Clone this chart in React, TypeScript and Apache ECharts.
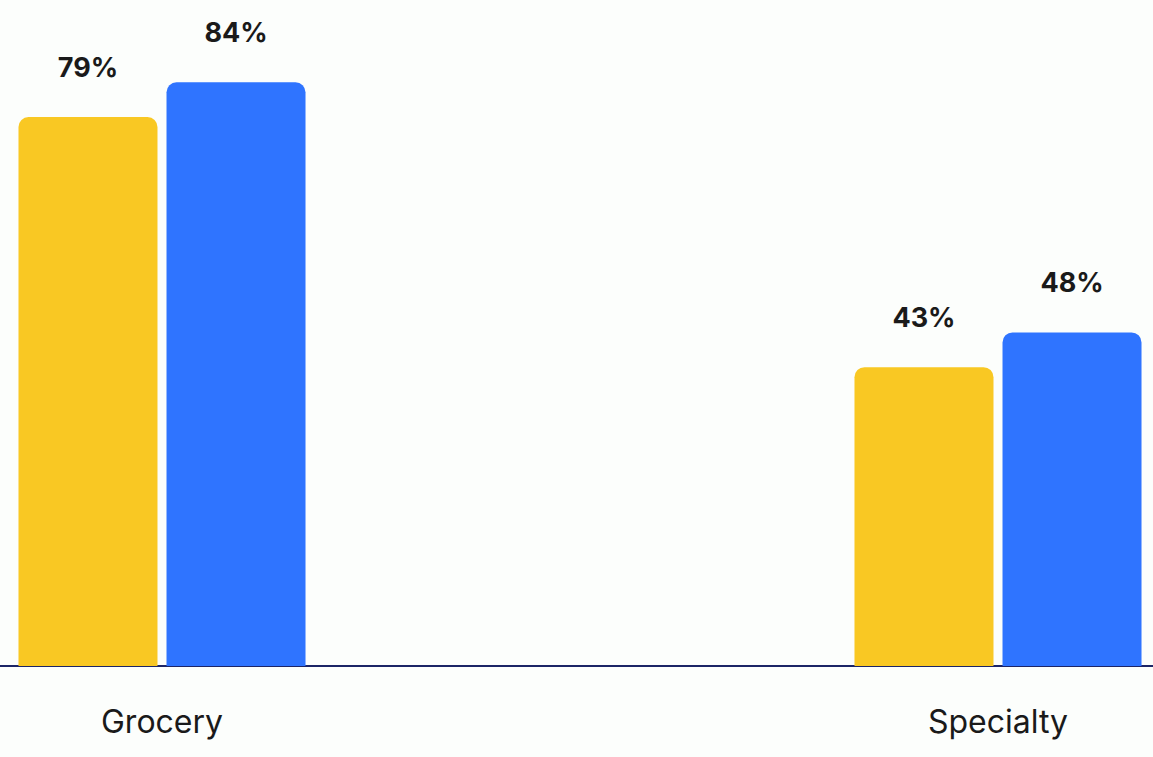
import React, { useEffect, useRef } from "react";
import * as echarts from "echarts";

const categories = ["Grocery", "Specialty"];
const seriesA = [79, 43];
const seriesB = [84, 48];
const seriesNames = ["Series A", "Series B"];

export default function App() {
  const ref = useRef<HTMLDivElement>(null);
  useEffect(() => {
    if (!ref.current) return;
    const chart = echarts.init(ref.current, undefined, { renderer: "svg" });
    const labelStyle = {
      show: true,
      position: "top" as const,
      distance: 36,
      formatter: "{c}%",
      fontFamily: "Inter, 'Open Sans', sans-serif",
      fontWeight: "bold" as const,
      fontSize: 27,
      color: "#1a1a1a",
    };
    chart.setOption({
      animation: false,
      backgroundColor: "#FCFEFC",
      grid: { left: 0, right: 0, top: 0, bottom: 91, containLabel: false },
      xAxis: {
        type: "category",
        data: categories,
        axisLine: { show: true, lineStyle: { color: "#1C2566", width: 2 } },
        axisTick: { show: false },
        axisLabel: {
          margin: 39,
          fontFamily: "Inter, 'Open Sans', sans-serif",
          fontSize: 32,
          color: "#1a1a1a",
        },
      },
      yAxis: {
        type: "value",
        min: 0,
        max: 100,
        show: false,
        splitLine: { show: false },
      },
      series: [
        {
          name: seriesNames[0],
          type: "bar",
          data: seriesA,
          barWidth: 139,
          barGap: "6.5%",
          itemStyle: { color: "#F9C823", borderRadius: [10, 10, 0, 0] },
          label: labelStyle,
        },
        {
          name: seriesNames[1],
          type: "bar",
          data: seriesB,
          barWidth: 139,
          barGap: "6.5%",
          itemStyle: { color: "#2F74FF", borderRadius: [10, 10, 0, 0] },
          label: labelStyle,
        },
      ],
    });
    return () => chart.dispose();
  }, []);
  return (
    <div style={{ position: "fixed", left: 0, top: 0, width: 1153, height: 757, overflow: "hidden", background: "#FCFEFC" }}>
      <div
        ref={ref}
        style={{ position: "absolute", left: -256, top: -29, width: 1672, height: 786 }}
      />
    </div>
  );
}
